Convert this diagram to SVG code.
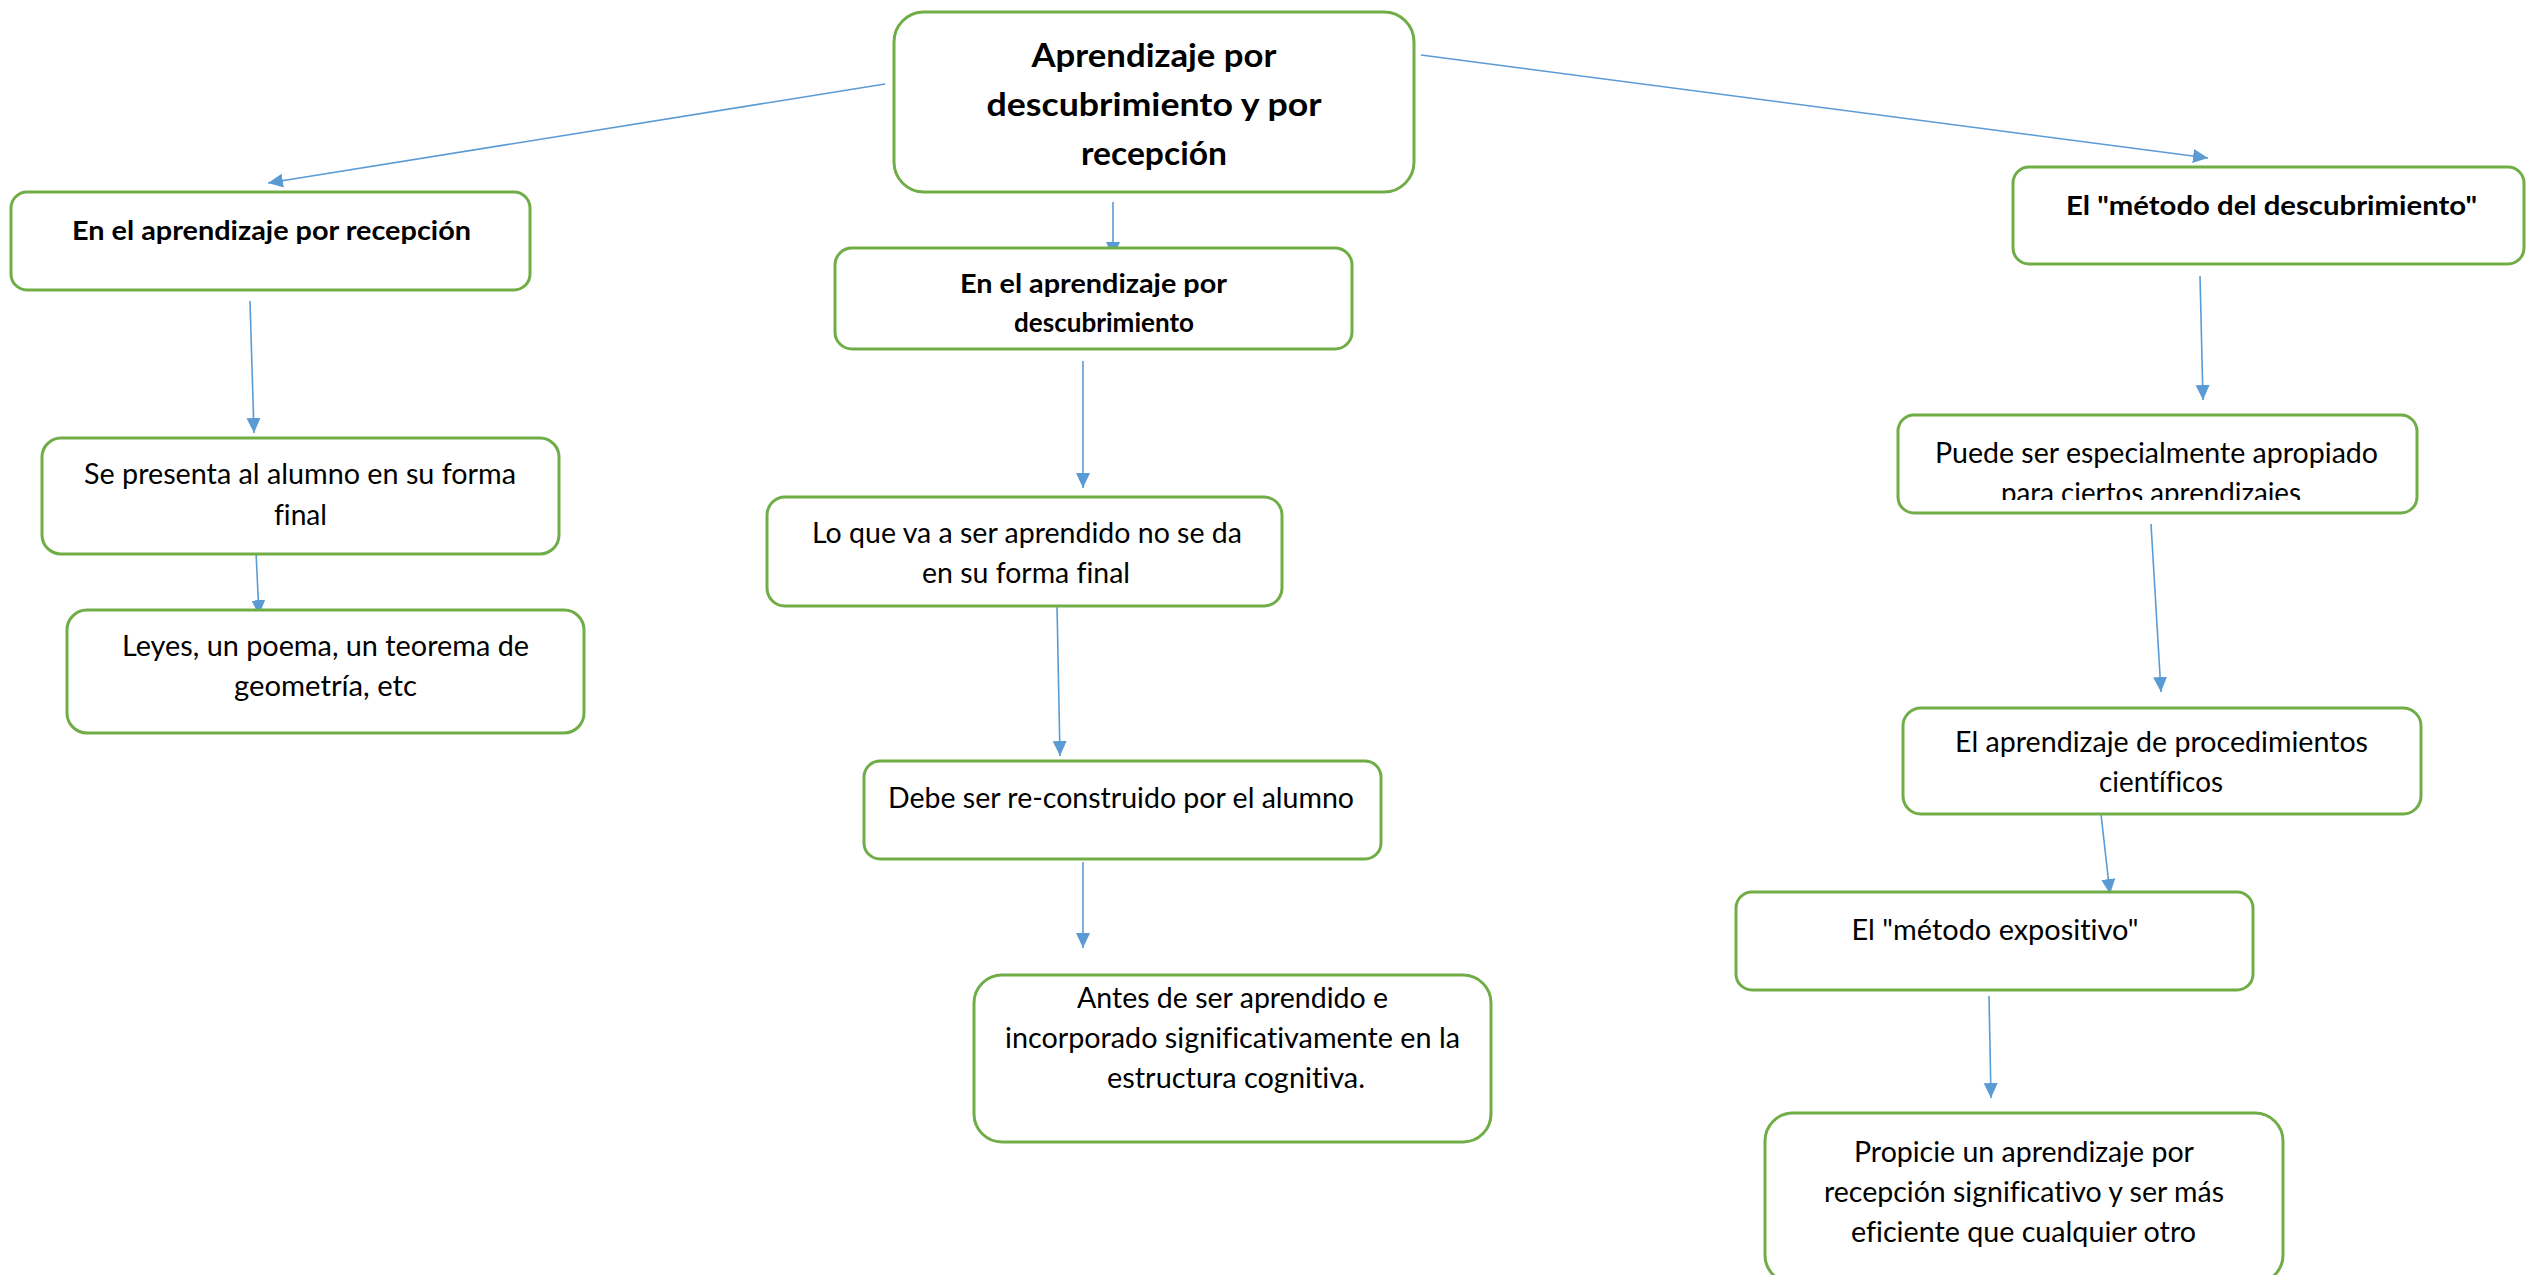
<svg xmlns="http://www.w3.org/2000/svg" width="2527" height="1275" viewBox="0 0 2527 1275">
<style>
.box{fill:#ffffff;stroke:#70AD47;stroke-width:3}
.t{font-family:Lato,"Open Sans","Liberation Sans",sans-serif;font-size:28px;fill:#000;text-anchor:middle;font-variant-ligatures:none}
.b{font-weight:bold;font-size:27px}
.big{font-size:33px}
.c{stroke:#5B9BD5;stroke-width:1.6;fill:none;marker-end:url(#ah)}
</style>
<defs>
<marker id="ah" markerUnits="userSpaceOnUse" markerWidth="16" markerHeight="15" refX="15" refY="7" orient="auto" viewBox="0 0 16 15">
<path d="M0,0 L15,7 L0,14 z" fill="#5B9BD5"/>
</marker>
<clipPath id="clipR2"><rect x="1898" y="416" width="520" height="84"/></clipPath>
</defs>
<rect width="2527" height="1275" fill="#ffffff"/>
<g id="connectors">
<path class="c" d="M885,84 L268,183"/>
<path class="c" d="M1113,202 L1113,257"/>
<path class="c" d="M1421,55 L2208,158"/>
<path class="c" d="M250,301 L254,433"/>
<path class="c" d="M256,552 L259,615"/>
<path class="c" d="M1083,361 L1083,488"/>
<path class="c" d="M1057,606 L1060,756"/>
<path class="c" d="M1083,862 L1083,948"/>
<path class="c" d="M2200,276 L2203,400"/>
<path class="c" d="M2151,524 L2161,692"/>
<path class="c" d="M2101,814 L2110,894"/>
<path class="c" d="M1989,996 L1991,1098"/>
</g>
<g id="central">
<rect class="box" x="894" y="12" width="520" height="180" rx="30"/>
<text class="t b big" x="1154" y="67" textLength="245" lengthAdjust="spacingAndGlyphs">Aprendizaje por</text>
<text class="t b big" x="1154" y="116" textLength="335" lengthAdjust="spacingAndGlyphs">descubrimiento y por</text>
<text class="t b big" x="1154" y="165" textLength="146" lengthAdjust="spacingAndGlyphs">recepción</text>
</g>
<g id="recepcion">
<rect class="box" x="11" y="192" width="519" height="98" rx="16"/>
<text class="t b" x="271.5" y="240" textLength="399" lengthAdjust="spacingAndGlyphs">En el aprendizaje por recepción</text>
</g>
<g id="descubrimiento">
<rect class="box" x="835" y="248" width="517" height="101" rx="17"/>
<text class="t b" x="1093.5" y="293" textLength="267" lengthAdjust="spacingAndGlyphs">En el aprendizaje por</text>
<text class="t b" x="1104" y="332" textLength="180" lengthAdjust="spacingAndGlyphs">descubrimiento</text>
</g>
<g id="metodo-descubrimiento">
<rect class="box" x="2013" y="167" width="511" height="97" rx="16"/>
<text class="t b" x="2271.5" y="215" textLength="411" lengthAdjust="spacingAndGlyphs">El "método del descubrimiento"</text>
</g>
<g id="se-presenta">
<rect class="box" x="42" y="438" width="517" height="116" rx="19"/>
<text class="t" x="300" y="484" textLength="432" lengthAdjust="spacingAndGlyphs">Se presenta al alumno en su forma</text>
<text class="t" x="300.5" y="525" textLength="53" lengthAdjust="spacingAndGlyphs">final</text>
</g>
<g id="leyes">
<rect class="box" x="67" y="610" width="517" height="123" rx="20"/>
<text class="t" x="325.5" y="656" textLength="407" lengthAdjust="spacingAndGlyphs">Leyes, un poema, un teorema de</text>
<text class="t" x="325.5" y="696" textLength="183" lengthAdjust="spacingAndGlyphs">geometría, etc</text>
</g>
<g id="lo-que-va">
<rect class="box" x="767" y="497" width="515" height="109" rx="18"/>
<text class="t" x="1027" y="543" textLength="430" lengthAdjust="spacingAndGlyphs">Lo que va a ser aprendido no se da</text>
<text class="t" x="1026" y="583" textLength="208" lengthAdjust="spacingAndGlyphs">en su forma final</text>
</g>
<g id="debe-ser">
<rect class="box" x="864" y="761" width="517" height="98" rx="16"/>
<text class="t" x="1121" y="808" textLength="466" lengthAdjust="spacingAndGlyphs">Debe ser re-construido por el alumno</text>
</g>
<g id="antes-de-ser">
<rect class="box" x="974" y="975" width="517" height="167" rx="28"/>
<text class="t" x="1232.5" y="1008" textLength="311" lengthAdjust="spacingAndGlyphs">Antes de ser aprendido e</text>
<text class="t" x="1232.5" y="1048" textLength="455" lengthAdjust="spacingAndGlyphs">incorporado significativamente en la</text>
<text class="t" x="1236" y="1088" textLength="258" lengthAdjust="spacingAndGlyphs">estructura cognitiva.</text>
</g>
<g id="puede-ser">
<rect class="box" x="1898" y="415" width="519" height="98" rx="16"/>
<text class="t" x="2156.5" y="463" textLength="443" lengthAdjust="spacingAndGlyphs">Puede ser especialmente apropiado</text>
<text class="t" x="2151" y="503" textLength="300" lengthAdjust="spacingAndGlyphs" clip-path="url(#clipR2)">para ciertos aprendizajes</text>
</g>
<g id="procedimientos">
<rect class="box" x="1903" y="708" width="518" height="106" rx="18"/>
<text class="t" x="2161.5" y="752" textLength="413" lengthAdjust="spacingAndGlyphs">El aprendizaje de procedimientos</text>
<text class="t" x="2161" y="792" textLength="124" lengthAdjust="spacingAndGlyphs">científicos</text>
</g>
<g id="metodo-expositivo">
<rect class="box" x="1736" y="892" width="517" height="98" rx="16"/>
<text class="t" x="1995" y="940" textLength="287" lengthAdjust="spacingAndGlyphs">El "método expositivo"</text>
</g>
<g id="propicie">
<rect class="box" x="1765" y="1113" width="518" height="170" rx="28"/>
<text class="t" x="2024" y="1162" textLength="340" lengthAdjust="spacingAndGlyphs">Propicie un aprendizaje por</text>
<text class="t" x="2024" y="1202" textLength="400" lengthAdjust="spacingAndGlyphs">recepción significativo y ser más</text>
<text class="t" x="2023.5" y="1242" textLength="345" lengthAdjust="spacingAndGlyphs">eficiente que cualquier otro</text>
</g>
</svg>
